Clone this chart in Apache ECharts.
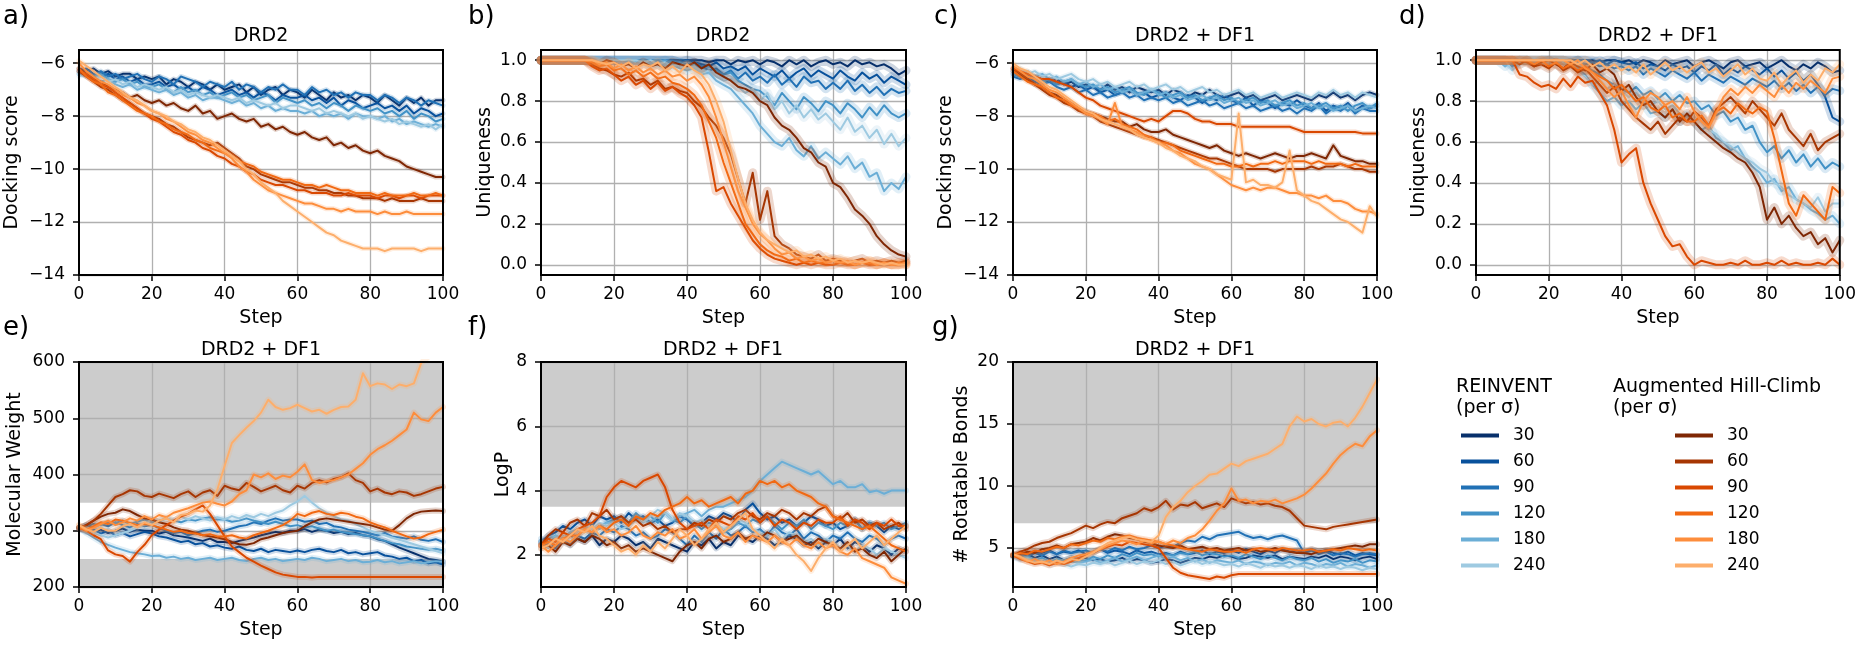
<!DOCTYPE html>
<html><head><meta charset="utf-8">
<script src="https://cdn.jsdelivr.net/npm/echarts@6/dist/echarts.min.js"></script>
<style>html,body{margin:0;padding:0;background:#fff}#c{width:1859px;height:646px}</style>
</head><body><div id="c"></div>
<script>
const steps=[0,2,4,6,8,10,12,14,16,18,20,22,24,26,28,30,32,34,36,38,40,42,44,46,48,50,52,54,56,58,60,62,64,66,68,70,72,74,76,78,80,82,84,86,88,90,92,94,96,98,100];
const sigmas=['30','60','90','120','180','240'];
const dockTicks=[-14,-12,-10,-8,-6];
const uniqTicks=[0,0.2,0.4,0.6,0.8,1.0];
const mwTicks=[200,300,400,500,600];
const logpTicks=[2,4,6,8];
const rotTicks=[5,10,15,20];
const xTicks=[20,40,60,80];

// a) Docking score, DRD2
const dockDRD2_REINVENT=[
[-6.2,-6.3,-6.2,-6.4,-6.3,-6.5,-6.4,-6.4,-6.6,-6.5,-6.6,-6.5,-6.8,-6.6,-6.7,-6.9,-6.7,-6.8,-7.0,-6.8,-7.0,-6.9,-6.8,-7.1,-6.9,-7.2,-7.0,-6.9,-7.2,-7.0,-7.1,-7.3,-7.0,-7.2,-7.4,-7.1,-7.3,-7.2,-7.4,-7.2,-7.3,-7.5,-7.2,-7.4,-7.6,-7.3,-7.5,-7.3,-7.6,-7.4,-7.4],
[-6.3,-6.2,-6.4,-6.5,-6.4,-6.6,-6.5,-6.7,-6.6,-6.8,-6.8,-6.7,-6.9,-6.8,-7.0,-6.9,-7.1,-6.9,-7.0,-7.2,-7.1,-7.0,-7.2,-7.1,-7.3,-7.1,-7.2,-7.4,-7.2,-7.3,-7.3,-7.2,-7.4,-7.3,-7.5,-7.3,-7.6,-7.4,-7.5,-7.7,-7.6,-7.5,-7.7,-7.6,-7.8,-7.6,-7.9,-7.7,-7.8,-8.0,-7.9],
[-6.4,-6.3,-6.5,-6.3,-6.5,-6.4,-6.6,-6.5,-6.4,-6.6,-6.7,-6.5,-6.6,-6.8,-6.5,-6.6,-6.7,-6.9,-6.7,-6.8,-6.9,-6.7,-7.0,-6.8,-6.9,-7.1,-6.9,-7.0,-6.8,-7.0,-7.0,-7.2,-6.9,-7.1,-7.0,-7.2,-7.1,-7.3,-7.1,-7.2,-7.2,-7.4,-7.2,-7.3,-7.5,-7.3,-7.4,-7.6,-7.4,-7.5,-7.6],
[-6.3,-6.4,-6.5,-6.4,-6.6,-6.7,-6.6,-6.8,-6.7,-6.9,-6.9,-6.8,-7.0,-7.1,-6.9,-7.1,-7.0,-7.2,-7.1,-7.3,-7.2,-7.1,-7.3,-7.2,-7.4,-7.3,-7.2,-7.5,-7.3,-7.4,-7.5,-7.4,-7.6,-7.5,-7.7,-7.5,-7.6,-7.8,-7.6,-7.7,-7.8,-7.7,-7.9,-7.8,-8.0,-7.8,-8.1,-7.9,-8.0,-8.2,-8.1],
[-6.4,-6.5,-6.6,-6.7,-6.6,-6.8,-6.9,-6.8,-7.0,-6.9,-7.0,-7.1,-7.0,-7.2,-7.1,-7.3,-7.2,-7.4,-7.3,-7.3,-7.4,-7.5,-7.4,-7.6,-7.5,-7.7,-7.6,-7.8,-7.7,-7.8,-7.8,-7.9,-7.8,-8.0,-7.9,-8.0,-7.9,-8.1,-7.9,-8.0,-8.0,-8.1,-8.0,-8.2,-8.1,-8.3,-8.2,-8.3,-8.4,-8.3,-8.4],
[-6.5,-6.4,-6.6,-6.5,-6.7,-6.6,-6.8,-6.7,-6.9,-6.8,-6.9,-7.0,-6.9,-7.1,-7.0,-7.2,-7.1,-7.2,-7.3,-7.2,-7.3,-7.4,-7.3,-7.5,-7.4,-7.5,-7.6,-7.5,-7.7,-7.6,-7.6,-7.7,-7.8,-7.7,-7.9,-7.8,-7.9,-8.0,-7.9,-8.1,-8.0,-8.1,-8.2,-8.1,-8.3,-8.2,-8.3,-8.4,-8.3,-8.5,-8.3]
];
const dockDRD2_AHC=[
[-6.2,-6.4,-6.6,-6.7,-6.9,-7.0,-7.1,-7.3,-7.2,-7.4,-7.5,-7.4,-7.6,-7.5,-7.7,-7.8,-7.6,-7.9,-7.8,-8.1,-8.0,-7.9,-8.1,-8.2,-8.1,-8.4,-8.3,-8.5,-8.4,-8.6,-8.7,-8.6,-8.8,-8.9,-8.8,-9.1,-9.0,-9.2,-9.1,-9.3,-9.4,-9.3,-9.5,-9.6,-9.7,-9.9,-10.0,-10.1,-10.2,-10.3,-10.3],
[-6.3,-6.5,-6.7,-6.9,-7.0,-7.2,-7.4,-7.5,-7.7,-7.9,-8.0,-8.1,-8.3,-8.4,-8.6,-8.8,-8.9,-9.0,-9.1,-9.0,-9.2,-9.4,-9.6,-9.9,-10.0,-10.2,-10.3,-10.4,-10.5,-10.5,-10.6,-10.7,-10.7,-10.8,-10.8,-10.9,-10.9,-11.0,-11.0,-11.1,-11.1,-11.1,-11.2,-11.1,-11.2,-11.2,-11.2,-11.1,-11.2,-11.2,-11.2],
[-6.3,-6.4,-6.6,-6.8,-6.9,-7.1,-7.3,-7.5,-7.7,-7.9,-8.1,-8.2,-8.4,-8.6,-8.7,-8.9,-9.0,-9.2,-9.3,-9.5,-9.6,-9.8,-9.9,-10.1,-10.2,-10.4,-10.5,-10.6,-10.6,-10.7,-10.8,-10.8,-10.9,-10.9,-10.9,-11.0,-11.0,-10.9,-11.0,-11.0,-11.0,-11.1,-11.0,-11.0,-11.1,-11.0,-11.0,-11.1,-11.0,-11.0,-11.0],
[-6.2,-6.5,-6.7,-6.8,-7.1,-7.2,-7.4,-7.6,-7.8,-7.9,-8.0,-8.2,-8.3,-8.5,-8.6,-8.7,-8.9,-9.0,-9.2,-9.3,-9.4,-9.5,-9.7,-9.8,-9.9,-10.1,-10.2,-10.3,-10.4,-10.4,-10.5,-10.6,-10.6,-10.7,-10.6,-10.7,-10.8,-10.8,-10.9,-10.9,-10.9,-11.0,-10.9,-11.0,-11.0,-11.0,-10.9,-11.0,-11.0,-10.9,-11.0],
[-6.0,-6.3,-6.5,-6.7,-6.8,-7.0,-7.2,-7.3,-7.5,-7.6,-7.8,-7.9,-8.1,-8.2,-8.4,-8.6,-8.7,-8.9,-9.0,-9.2,-9.4,-9.6,-9.9,-10.1,-10.4,-10.6,-10.8,-10.9,-11.0,-11.1,-11.2,-11.3,-11.3,-11.4,-11.5,-11.5,-11.6,-11.5,-11.6,-11.6,-11.6,-11.7,-11.6,-11.7,-11.7,-11.6,-11.7,-11.7,-11.7,-11.7,-11.7],
[-5.9,-6.1,-6.3,-6.5,-6.7,-6.9,-7.1,-7.3,-7.4,-7.6,-7.8,-7.9,-8.0,-8.2,-8.3,-8.5,-8.6,-8.8,-8.9,-9.1,-9.3,-9.5,-9.7,-10.0,-10.2,-10.5,-10.7,-10.9,-11.2,-11.4,-11.6,-11.8,-12.0,-12.2,-12.4,-12.5,-12.7,-12.8,-12.9,-13.0,-13.0,-13.0,-13.1,-13.0,-13.0,-13.0,-13.0,-13.1,-13.0,-13.0,-13.0]
];

// b) Uniqueness, DRD2
const uniqDRD2_REINVENT=[
[1,1,1,1,1,1,1,1,1,1,1,1,1,1,1,1,1,1,1,1,1,1,1,0.99,1,1,0.98,1,0.99,1,0.98,1,0.99,0.97,1,0.98,1,0.97,0.99,1,0.98,0.99,0.97,1,0.98,0.99,0.97,0.98,0.96,0.93,0.95],
[1,1,1,1,1,1,1,1,1,1,1,1,1,1,1,1,1,1,1,0.99,1,0.99,0.98,0.97,0.99,0.96,0.97,0.95,0.97,0.93,0.96,0.94,0.92,0.95,0.91,0.94,0.96,0.92,0.95,0.93,0.91,0.95,0.92,0.90,0.94,0.91,0.93,0.89,0.92,0.90,0.88],
[1,1,1,1,1,1,1,1,1,1,1,1,1,1,1,1,1,1,1,0.99,0.98,0.99,0.97,0.95,0.96,0.93,0.95,0.91,0.94,0.90,0.92,0.89,0.93,0.88,0.91,0.87,0.92,0.89,0.90,0.86,0.89,0.86,0.90,0.85,0.88,0.84,0.87,0.83,0.86,0.84,0.85],
[1,1,1,1,1,1,1,1,1,1,1,1,1,1,1,1,0.99,1,0.98,0.99,0.97,0.98,0.96,0.97,0.95,0.93,0.94,0.90,0.88,0.86,0.85,0.82,0.78,0.84,0.80,0.76,0.82,0.79,0.75,0.80,0.78,0.74,0.79,0.76,0.72,0.77,0.73,0.78,0.74,0.72,0.74],
[1,1,1,1,1,1,1,1,1,1,1,1,1,0.99,1,0.98,0.99,0.97,0.98,0.96,0.95,0.96,0.93,0.94,0.90,0.88,0.86,0.82,0.78,0.74,0.68,0.64,0.60,0.58,0.62,0.56,0.53,0.58,0.52,0.55,0.52,0.49,0.53,0.47,0.50,0.43,0.45,0.36,0.40,0.37,0.43],
[1,1,1,1,1,1,1,1,1,1,1,1,1,1,0.99,1,0.98,0.99,0.97,0.98,0.96,0.97,0.94,0.95,0.92,0.90,0.91,0.87,0.84,0.86,0.80,0.84,0.76,0.80,0.74,0.78,0.72,0.76,0.71,0.74,0.70,0.66,0.72,0.65,0.68,0.62,0.66,0.59,0.64,0.58,0.62]
];
const uniqDRD2_AHC=[
[1,1,1,1,1,1,1,0.99,0.98,1,0.99,0.97,0.98,0.96,0.99,0.97,0.98,0.96,0.99,0.98,0.97,0.99,0.96,0.98,0.94,0.92,0.90,0.87,0.86,0.84,0.80,0.78,0.72,0.68,0.66,0.62,0.57,0.55,0.50,0.48,0.40,0.38,0.33,0.27,0.24,0.20,0.14,0.10,0.07,0.05,0.04],
[1,1,1,1,1,1,1,0.98,0.96,0.95,0.93,0.92,0.94,0.90,0.91,0.88,0.90,0.86,0.87,0.85,0.84,0.80,0.77,0.72,0.68,0.62,0.54,0.42,0.30,0.45,0.22,0.36,0.14,0.10,0.08,0.05,0.04,0.03,0.05,0.02,0.03,0.02,0.01,0.02,0.03,0.01,0.02,0.01,0.02,0.01,0.02],
[1,1,1,1,1,1,1,0.97,0.95,0.96,0.93,0.90,0.92,0.88,0.90,0.86,0.89,0.85,0.87,0.84,0.82,0.78,0.72,0.55,0.36,0.38,0.30,0.24,0.18,0.12,0.08,0.05,0.03,0.02,0.01,0,0.01,0,0.01,0,0,0.01,0,0,0.01,0,0,0.01,0,0,0.01],
[1,1,1,1,1,1,1,0.99,0.97,0.98,0.95,0.96,0.93,0.95,0.92,0.94,0.91,0.92,0.89,0.88,0.86,0.83,0.78,0.70,0.62,0.50,0.40,0.30,0.20,0.15,0.10,0.07,0.05,0.04,0.02,0.03,0.01,0.02,0.01,0.01,0.02,0.01,0.01,0,0.01,0.01,0,0.01,0,0.01,0],
[1,1,1,1,1,1,1,1,0.98,0.99,0.96,0.98,0.95,0.97,0.94,0.96,0.93,0.95,0.92,0.93,0.90,0.92,0.88,0.82,0.72,0.60,0.48,0.36,0.28,0.20,0.15,0.12,0.08,0.05,0.06,0.03,0.04,0.02,0.03,0.01,0.02,0.01,0.02,0,0.01,0.02,0,0.01,0,0,0.01],
[1,1,1,1,1,1,1,1,0.99,0.98,0.99,0.97,0.99,0.96,0.98,0.97,0.99,0.95,0.97,0.94,0.98,0.95,0.93,0.88,0.80,0.70,0.56,0.42,0.30,0.22,0.16,0.12,0.10,0.08,0.06,0.07,0.04,0.05,0.03,0.04,0.02,0.03,0.01,0.02,0.01,0.02,0.01,0,0.01,0,0]
];

// c) Docking score, DRD2 + DF1
const dockDF1_REINVENT=[
[-6.3,-6.4,-6.5,-6.5,-6.6,-6.7,-6.6,-6.8,-6.7,-6.9,-6.8,-6.9,-7.0,-6.8,-7.0,-6.9,-7.1,-6.9,-7.0,-7.1,-7.0,-7.2,-7.0,-7.1,-7.3,-7.1,-7.2,-7.0,-7.2,-7.3,-7.2,-7.1,-7.3,-7.2,-7.4,-7.3,-7.2,-7.4,-7.3,-7.2,-7.3,-7.4,-7.2,-7.3,-7.1,-7.3,-7.2,-7.4,-7.2,-7.1,-7.2],
[-6.4,-6.5,-6.4,-6.6,-6.7,-6.6,-6.8,-6.7,-6.9,-6.8,-7.0,-6.9,-7.1,-7.0,-7.2,-7.1,-7.0,-7.2,-7.1,-7.3,-7.2,-7.1,-7.3,-7.4,-7.2,-7.3,-7.5,-7.3,-7.4,-7.2,-7.4,-7.5,-7.3,-7.6,-7.4,-7.5,-7.7,-7.5,-7.6,-7.4,-7.6,-7.7,-7.5,-7.8,-7.6,-7.7,-7.5,-7.8,-7.6,-7.7,-7.6],
[-6.5,-6.6,-6.5,-6.7,-6.8,-6.7,-6.9,-7.0,-6.9,-7.1,-7.0,-7.2,-7.1,-7.3,-7.2,-7.1,-7.3,-7.2,-7.4,-7.3,-7.4,-7.3,-7.5,-7.4,-7.6,-7.5,-7.4,-7.6,-7.5,-7.7,-7.6,-7.5,-7.7,-7.6,-7.8,-7.7,-7.6,-7.8,-7.7,-7.9,-7.7,-7.8,-7.6,-7.9,-7.7,-7.8,-7.6,-7.9,-7.7,-7.8,-7.8],
[-6.4,-6.5,-6.6,-6.5,-6.7,-6.6,-6.8,-6.7,-6.6,-6.8,-6.9,-6.8,-7.0,-6.9,-7.1,-7.0,-6.9,-7.1,-7.2,-7.0,-7.1,-7.3,-7.2,-7.1,-7.3,-7.2,-7.4,-7.3,-7.2,-7.4,-7.3,-7.5,-7.4,-7.3,-7.5,-7.4,-7.6,-7.5,-7.4,-7.6,-7.5,-7.7,-7.6,-7.5,-7.7,-7.6,-7.8,-7.6,-7.5,-7.7,-7.5],
[-6.3,-6.4,-6.3,-6.5,-6.4,-6.6,-6.5,-6.7,-6.6,-6.8,-6.7,-6.9,-6.8,-7.0,-6.9,-7.1,-7.0,-7.2,-7.1,-7.0,-7.2,-7.1,-7.3,-7.2,-7.4,-7.3,-7.2,-7.4,-7.3,-7.5,-7.4,-7.3,-7.5,-7.4,-7.6,-7.5,-7.4,-7.6,-7.5,-7.7,-7.6,-7.5,-7.7,-7.6,-7.8,-7.7,-7.6,-7.8,-7.7,-7.6,-7.7],
[-6.3,-6.2,-6.4,-6.3,-6.5,-6.4,-6.6,-6.5,-6.4,-6.6,-6.7,-6.6,-6.8,-6.7,-6.9,-6.8,-6.7,-6.9,-6.8,-7.0,-6.9,-6.8,-7.0,-6.9,-7.1,-7.0,-6.9,-7.1,-7.0,-7.2,-7.1,-7.0,-7.2,-7.1,-7.3,-7.2,-7.1,-7.3,-7.2,-7.1,-7.2,-7.3,-7.1,-7.2,-7.0,-7.2,-7.1,-7.3,-7.1,-7.2,-7.3]
];
const dockDF1_AHC=[
[-6.2,-6.4,-6.6,-6.8,-6.9,-7.1,-7.2,-7.4,-7.5,-7.7,-7.8,-7.9,-8.0,-8.1,-8.2,-8.2,-8.4,-8.3,-8.5,-8.6,-8.6,-8.5,-8.7,-8.8,-8.9,-9.0,-9.1,-9.2,-9.1,-9.3,-9.4,-9.5,-9.4,-9.5,-9.6,-9.5,-9.4,-9.5,-9.6,-9.5,-9.5,-9.4,-9.5,-9.6,-9.1,-9.5,-9.6,-9.7,-9.7,-9.8,-9.8],
[-6.2,-6.4,-6.6,-6.8,-7.0,-7.2,-7.3,-7.5,-7.6,-7.8,-7.9,-8.0,-8.2,-8.3,-8.4,-8.5,-8.6,-8.7,-8.8,-8.8,-8.9,-9.0,-9.1,-9.2,-9.3,-9.4,-9.5,-9.6,-9.6,-9.7,-9.8,-9.9,-10.0,-10.0,-10.0,-10.0,-10.1,-10.0,-10.0,-10.0,-10.0,-9.9,-10.0,-9.9,-9.9,-9.8,-9.9,-10.0,-10.0,-10.1,-10.1],
[-6.2,-6.3,-6.4,-6.5,-6.6,-6.6,-6.7,-6.8,-6.9,-7.1,-7.3,-7.4,-7.6,-7.7,-7.8,-7.9,-8.0,-8.1,-8.2,-8.1,-8.2,-8.0,-7.8,-7.8,-7.9,-8.1,-8.2,-8.2,-8.3,-8.3,-8.3,-8.4,-8.4,-8.4,-8.4,-8.4,-8.4,-8.4,-8.4,-8.5,-8.6,-8.6,-8.6,-8.6,-8.6,-8.6,-8.6,-8.6,-8.65,-8.65,-8.65],
[-6.3,-6.5,-6.7,-6.8,-6.9,-7.1,-7.3,-7.4,-7.6,-7.7,-7.9,-7.9,-8.0,-8.2,-8.1,-8.3,-8.4,-8.5,-8.7,-8.8,-9.0,-9.0,-9.1,-9.3,-9.4,-9.5,-9.6,-9.7,-9.8,-9.8,-9.9,-9.9,-9.8,-9.9,-9.8,-9.8,-9.7,-9.8,-9.7,-9.7,-9.7,-9.8,-9.7,-9.8,-9.8,-9.8,-9.9,-9.8,-9.9,-9.9,-9.9],
[-6.1,-6.3,-6.5,-6.6,-6.8,-7.0,-7.1,-7.3,-7.5,-7.7,-7.9,-8.0,-8.1,-8.3,-7.5,-8.4,-8.5,-8.6,-8.8,-8.9,-9.0,-9.1,-9.3,-9.4,-9.6,-9.8,-9.9,-10.0,-10.2,-10.4,-10.6,-10.7,-10.8,-10.7,-10.8,-10.7,-10.7,-10.8,-10.9,-10.9,-11.0,-11.0,-11.1,-11.0,-11.2,-11.2,-11.3,-11.5,-11.6,-11.6,-11.7],
[-6.0,-6.2,-6.3,-6.5,-6.7,-6.9,-7.0,-7.2,-7.4,-7.6,-7.8,-7.9,-8.1,-8.2,-8.3,-8.4,-8.5,-8.7,-8.8,-8.9,-9.0,-9.2,-9.3,-9.5,-9.6,-9.7,-9.9,-10.0,-10.2,-10.3,-10.4,-7.9,-10.5,-10.4,-10.6,-10.6,-10.7,-10.5,-9.3,-10.8,-11.0,-11.2,-11.3,-11.5,-11.7,-11.9,-12.0,-12.2,-12.4,-11.4,-11.8]
];

// d) Uniqueness, DRD2 + DF1
const uniqDF1_REINVENT=[
[1,1,1,1,1,1,1,1,1,1,1,1,1,1,1,1,1,0.99,1,1,0.99,1,0.98,1,0.99,0.97,1,0.98,0.99,1,0.97,0.99,1,0.98,0.96,0.99,1,0.97,0.98,0.99,0.96,0.98,1,0.97,0.95,0.98,0.96,0.99,0.97,0.94,0.95],
[1,1,1,1,1,1,1,1,1,1,1,1,1,1,1,1,0.99,1,0.98,1,0.99,0.98,0.99,0.96,0.98,0.97,0.95,0.98,0.96,0.97,0.94,0.97,0.95,0.98,0.93,0.96,0.94,0.97,0.95,0.93,0.96,0.92,0.95,0.91,0.94,0.90,0.93,0.88,0.82,0.72,0.70],
[1,1,1,1,1,0.98,1,1,0.99,1,1,1,1,0.99,1,0.98,0.99,0.97,0.98,0.96,0.97,0.95,0.97,0.93,0.96,0.94,0.92,0.95,0.93,0.91,0.94,0.90,0.93,0.91,0.89,0.92,0.90,0.88,0.91,0.89,0.87,0.90,0.86,0.89,0.85,0.88,0.84,0.87,0.83,0.86,0.85],
[1,1,1,1,1,0.97,1,1,1,1,1,1,1,0.98,1,0.97,0.95,0.93,0.90,0.88,0.86,0.84,0.87,0.83,0.85,0.81,0.84,0.80,0.83,0.79,0.80,0.76,0.78,0.73,0.75,0.70,0.72,0.66,0.68,0.60,0.55,0.58,0.52,0.56,0.50,0.54,0.48,0.52,0.47,0.50,0.48],
[1,1,1,1,0.97,1,1,1,0.99,1,1,1,0.98,0.99,0.96,0.93,0.88,0.84,0.80,0.82,0.78,0.80,0.76,0.79,0.74,0.75,0.72,0.76,0.70,0.73,0.70,0.66,0.68,0.62,0.60,0.56,0.58,0.52,0.48,0.45,0.40,0.42,0.36,0.38,0.32,0.30,0.27,0.25,0.22,0.24,0.20],
[1,1,1,1,1,0.95,1,1,1,1,1,1,1,0.98,0.95,0.92,0.88,0.90,0.86,0.88,0.85,0.82,0.84,0.80,0.78,0.80,0.76,0.78,0.74,0.72,0.70,0.72,0.66,0.64,0.60,0.58,0.55,0.52,0.50,0.47,0.45,0.40,0.38,0.34,0.32,0.30,0.28,0.33,0.26,0.30,0.30]
];
const uniqDF1_AHC=[
[1,1,1,1,1,1,0.98,1,0.97,0.99,1,0.98,0.96,0.99,0.97,0.95,0.98,0.94,0.96,0.93,0.85,0.88,0.82,0.78,0.80,0.75,0.72,0.76,0.70,0.74,0.70,0.66,0.63,0.60,0.57,0.55,0.52,0.50,0.45,0.38,0.22,0.28,0.20,0.24,0.18,0.14,0.16,0.10,0.13,0.06,0.12],
[1,1,1,1,1,1,1,0.99,0.97,0.98,0.96,0.99,0.95,0.97,0.94,0.96,0.92,0.88,0.84,0.87,0.80,0.76,0.72,0.69,0.66,0.70,0.64,0.68,0.72,0.70,0.75,0.72,0.68,0.76,0.79,0.82,0.78,0.74,0.80,0.76,0.72,0.68,0.74,0.66,0.62,0.58,0.64,0.56,0.60,0.62,0.64],
[1,1,1,1,1,1,0.93,0.92,0.89,0.87,0.88,0.86,0.91,0.87,0.92,0.89,0.90,0.84,0.78,0.66,0.50,0.54,0.57,0.40,0.30,0.22,0.14,0.09,0.10,0.04,0,0.02,0.01,0,0,0.01,0,0.02,0,0,0.01,0,0.02,0,0.01,0,0,0.01,0,0.03,0],
[1,1,1,1,1,1,1,1,0.98,1,0.97,0.99,0.96,0.98,0.95,0.97,0.94,0.92,0.90,0.86,0.88,0.84,0.80,0.82,0.77,0.75,0.78,0.72,0.74,0.70,0.70,0.73,0.68,0.75,0.77,0.74,0.79,0.76,0.74,0.77,0.75,0.62,0.46,0.30,0.24,0.34,0.30,0.26,0.22,0.38,0.35],
[1,1,1,1,1,1,1,1,1,1,1,1,1,0.98,1,0.96,0.94,0.90,0.86,0.82,0.85,0.78,0.72,0.80,0.84,0.82,0.78,0.80,0.76,0.82,0.75,0.70,0.67,0.74,0.82,0.86,0.83,0.87,0.84,0.88,0.85,0.82,0.88,0.84,0.89,0.86,0.90,0.87,0.84,0.91,0.92],
[1,1,1,1,1,1,1,1,1,1,1,1,1,1,0.98,1,0.97,0.99,0.96,0.98,0.95,0.97,0.94,0.98,0.93,0.96,0.99,0.95,0.97,0.94,0.97,0.99,0.94,0.96,0.92,0.95,0.98,0.93,0.96,0.91,0.90,0.94,0.88,0.92,0.95,0.89,0.93,0.90,0.96,0.94,0.98]
];

// e) Molecular Weight, DRD2 + DF1
const mwDF1_REINVENT=[
[305,300,298,302,296,300,304,298,302,300,300,295,298,292,290,288,285,282,286,280,280,278,282,285,288,292,295,298,296,300,300,303,298,302,300,296,298,294,296,292,290,285,282,276,270,265,260,255,250,248,245],
[305,298,302,295,300,292,296,290,294,298,295,290,288,284,280,282,276,278,272,274,270,268,272,266,264,268,262,266,264,262,265,262,266,268,264,262,266,260,262,258,260,262,256,254,250,252,246,248,242,244,240],
[305,310,306,312,308,315,310,306,312,308,310,305,300,296,298,292,296,300,302,298,300,304,308,310,315,312,318,322,318,320,320,316,318,312,314,308,306,302,300,298,295,292,296,290,288,286,290,284,282,285,280],
[305,308,312,310,316,314,318,312,316,320,315,318,322,318,315,320,318,322,324,320,320,316,318,322,318,315,312,316,312,308,310,306,308,304,300,302,298,296,294,292,290,286,282,278,276,272,270,268,266,268,265],
[305,296,288,280,275,270,266,262,260,258,255,256,252,254,250,252,248,250,252,248,250,252,248,246,250,252,248,250,246,248,250,248,252,250,246,248,250,246,248,244,245,248,244,246,242,244,246,242,244,246,245],
[305,300,296,292,288,292,296,300,306,312,320,316,322,318,325,320,326,322,318,324,320,326,322,328,324,330,326,332,336,345,352,362,350,340,332,326,320,318,312,306,300,296,292,288,284,280,276,272,268,264,260]
];
const mwDF1_AHC=[
[305,310,318,325,330,332,338,335,328,322,320,315,312,306,302,300,296,292,290,288,285,280,276,275,278,285,288,292,296,298,300,308,315,320,322,320,318,316,314,312,310,306,302,300,310,322,330,334,335,336,335],
[305,310,318,330,345,360,365,372,370,362,360,366,362,358,365,370,360,368,372,362,380,375,372,385,378,370,375,380,372,368,380,375,385,390,386,392,395,402,390,385,370,375,368,365,370,368,362,365,370,375,378],
[305,300,292,285,265,258,255,245,262,275,292,302,310,318,325,330,338,345,330,310,290,272,262,252,245,238,232,226,222,220,218,218,217,218,218,218,218,218,218,218,218,218,218,218,218,218,218,218,218,218,218],
[305,302,308,315,312,320,318,314,310,312,310,306,302,298,300,296,295,292,294,290,290,292,288,286,292,296,300,305,310,318,330,326,332,335,330,328,332,330,325,322,315,310,306,300,295,290,286,288,294,298,302],
[310,300,305,312,318,310,315,322,318,326,320,328,324,332,336,340,345,350,352,348,345,352,365,372,400,395,402,392,398,395,405,418,390,385,388,390,395,400,410,420,435,445,452,460,470,480,510,498,495,510,520],
[310,303,298,305,300,300,308,312,306,315,310,318,322,315,328,330,336,334,345,373,415,456,470,483,495,510,533,520,515,518,524,518,512,515,508,515,520,521,533,580,557,562,560,552,560,557,562,598,610,625,640]
];

// f) LogP, DRD2 + DF1
const logpDF1_REINVENT=[
[2.4,2.3,2.5,2.4,2.6,2.5,2.4,2.6,2.3,2.5,2.4,2.6,2.5,2.3,2.4,2.2,2.5,2.4,2.3,2.2,2.1,2.4,2.3,2.5,2.2,2.4,2.3,2.6,2.5,2.4,2.6,2.5,2.3,2.4,2.6,2.5,2.3,2.4,2.2,2.4,2.3,2.5,2.2,2.4,2.3,2.1,2.3,2.2,2.0,2.2,2.1],
[2.4,2.6,2.7,2.9,2.8,3.0,3.1,2.9,3.2,3.1,3.2,3.0,3.3,3.1,3.2,3.0,3.1,2.9,3.0,3.2,3.1,2.9,3.0,3.2,3.1,3.3,3.2,3.0,3.4,3.6,3.3,3.1,3.2,3.0,3.1,2.9,3.0,3.2,3.1,2.9,3.0,2.8,2.9,3.1,2.8,3.0,2.9,2.7,2.9,2.8,2.9],
[2.3,2.4,2.2,2.5,2.3,2.6,2.5,2.7,2.6,2.8,2.7,2.9,2.8,2.6,2.7,2.5,2.6,2.8,2.7,2.5,2.3,2.6,2.4,2.7,2.5,2.8,2.6,2.7,2.9,2.7,2.8,2.6,2.9,2.7,2.6,2.8,2.5,2.7,2.6,2.4,2.6,2.5,2.7,2.5,2.4,2.6,2.5,2.3,2.5,2.6,2.5],
[2.5,2.3,2.6,2.4,2.7,2.6,2.8,2.7,2.9,3.0,3.1,3.2,3.0,3.3,3.1,3.2,3.0,3.3,3.1,3.0,3.2,3.0,2.8,3.0,2.9,2.7,2.8,3.0,2.9,3.1,3.0,3.2,3.0,2.8,3.0,2.9,3.1,2.8,3.0,2.9,2.8,3.0,2.9,3.1,2.8,3.0,2.9,3.0,2.8,2.9,3.0],
[2.4,2.5,2.6,2.5,2.7,2.8,2.7,2.9,2.8,3.0,3.0,3.1,2.9,3.2,3.1,3.0,3.2,3.3,3.1,3.2,3.3,3.4,3.2,3.4,3.5,3.5,3.6,3.7,3.8,4.0,4.3,4.5,4.7,4.9,4.8,4.7,4.6,4.5,4.6,4.4,4.2,4.3,4.1,4.1,4.2,3.95,4.0,3.9,4.0,4.0,4.0],
[2.4,2.2,2.5,2.6,2.4,2.7,2.9,2.8,3.0,2.9,3.0,2.8,2.9,3.1,3.0,3.2,3.4,3.3,3.1,3.3,3.2,3.0,3.1,2.9,3.0,2.8,2.9,3.1,3.0,2.8,2.7,2.6,2.8,2.5,2.7,2.6,2.4,2.5,2.3,2.5,2.4,2.2,2.3,2.1,2.3,2.2,2.0,2.2,2.1,2.0,1.9]
];
const logpDF1_AHC=[
[2.2,2.3,2.1,2.4,2.3,2.5,2.4,2.6,2.5,2.3,2.4,2.2,2.3,2.1,2.2,2.1,2.0,1.9,1.8,2.1,2.3,2.4,2.2,2.5,2.6,2.4,2.5,2.7,2.5,2.6,2.5,2.7,2.6,2.4,2.5,2.6,2.4,2.3,2.5,2.4,2.3,2.2,2.4,2.1,2.2,2.0,1.9,2.1,1.8,2.0,2.2],
[2.3,2.6,2.8,2.7,3.0,3.1,2.9,3.3,3.2,3.4,3.1,3.2,3.0,3.1,2.9,3.0,2.8,2.9,2.7,2.8,2.8,3.0,2.9,3.1,3.0,3.2,3.1,3.3,3.4,3.2,3.1,3.3,3.2,3.4,3.3,3.1,3.3,3.2,3.4,3.5,3.2,3.1,3.3,3.0,3.1,2.9,3.0,2.8,2.9,3.0,2.8],
[2.3,2.5,2.4,2.7,2.6,2.8,2.9,3.0,3.2,3.8,4.1,4.3,4.2,4.1,4.3,4.4,4.5,4.1,3.4,3.0,2.8,2.9,3.0,2.8,3.1,3.0,2.9,3.2,3.1,3.3,3.0,3.2,2.9,3.1,3.0,2.8,3.0,2.9,3.1,3.0,3.0,3.2,2.9,3.1,3.0,2.8,3.0,2.9,3.1,2.9,2.9],
[2.3,2.4,2.3,2.5,2.6,2.6,2.8,2.7,2.9,2.8,3.0,3.1,2.9,3.2,3.1,3.3,3.2,3.4,3.5,3.6,3.8,3.6,3.7,3.5,3.6,3.7,3.8,3.6,3.9,4.0,4.3,4.2,4.3,4.1,4.2,4.0,3.9,3.8,3.6,3.5,3.2,3.1,3.0,2.9,2.8,2.9,2.7,2.5,2.3,2.2,2.1],
[2.3,2.1,2.3,2.5,2.4,2.6,2.8,2.7,2.9,2.7,2.8,2.6,2.7,2.9,2.6,2.5,2.7,2.6,2.8,2.5,2.6,2.8,2.5,2.7,2.9,2.6,2.5,2.7,2.4,2.6,2.5,2.4,2.6,2.4,2.3,2.5,2.3,2.2,2.4,2.2,2.3,2.1,2.0,2.2,1.9,1.8,1.7,1.6,1.3,1.2,1.1],
[2.2,2.3,2.5,2.4,2.6,2.8,2.7,2.9,2.6,2.5,2.3,2.1,2.2,2.0,2.3,2.1,2.4,2.2,2.5,2.8,2.6,2.3,2.5,2.8,3.0,2.7,2.9,3.1,3.3,2.8,2.6,2.4,2.2,2.5,2.3,2.0,1.8,1.5,1.9,2.2,2.4,2.1,2.3,2.5,2.2,2.4,2.6,2.3,2.5,2.7,2.9]
];

// g) # Rotatable Bonds, DRD2 + DF1
const rotDF1_REINVENT=[
[4.4,4.3,4.5,4.2,4.4,4.1,4.3,4.0,4.2,4.1,4.2,4.0,4.1,3.9,4.0,4.2,3.9,4.1,4.0,3.8,3.9,4.1,4.0,3.8,4.0,4.2,4.1,4.3,4.2,4.4,4.3,4.1,4.2,4.4,4.3,4.2,4.4,4.1,4.3,4.2,4.1,4.3,4.2,4.4,4.1,4.3,4.2,4.0,4.2,4.3,4.1],
[4.4,4.6,4.5,4.7,4.6,4.8,4.5,4.7,4.6,4.8,4.5,4.7,4.9,4.6,4.8,4.7,4.5,4.8,4.6,4.7,4.5,4.6,4.4,4.7,4.5,4.6,4.8,4.5,4.7,4.6,4.8,4.6,4.9,4.7,4.5,4.8,4.6,4.9,4.7,4.8,4.6,4.9,4.7,4.8,4.6,4.5,4.7,4.4,4.6,4.5,4.4],
[4.4,4.5,4.3,4.6,4.4,4.7,4.5,4.8,4.6,4.7,4.8,4.6,4.9,4.7,5.0,4.8,5.1,4.9,5.0,5.2,5.0,5.2,5.1,5.4,5.6,5.5,5.9,5.7,6.0,6.1,6.2,6.3,6.0,5.8,5.9,5.7,5.9,6.0,5.8,5.6,4.6,4.8,4.5,4.7,4.4,4.6,4.5,4.3,4.5,4.6,4.5],
[4.4,4.2,4.3,4.0,4.2,3.9,4.1,4.0,4.2,3.9,4.0,4.3,4.1,4.4,4.2,4.5,4.3,4.6,4.4,4.5,4.3,4.5,4.4,4.6,4.5,4.7,4.4,4.6,4.5,4.3,4.4,4.2,4.5,4.3,4.1,4.4,4.2,4.0,4.3,4.1,4.0,4.2,3.9,4.1,3.8,4.0,3.9,4.1,3.8,4.0,3.9],
[4.3,4.1,4.2,3.9,4.0,3.8,3.9,3.7,3.9,3.8,3.9,4.1,3.8,4.0,4.2,3.9,4.1,4.3,4.0,4.2,4.4,4.1,4.3,4.0,4.2,3.9,4.1,3.8,4.0,3.9,3.8,4.0,3.7,3.9,3.8,3.6,3.8,3.7,3.9,3.6,3.8,3.7,3.5,3.7,3.6,3.8,3.5,3.7,3.6,3.4,3.6],
[4.3,4.0,4.1,3.8,3.9,3.6,3.8,3.7,3.5,3.7,3.6,3.8,3.7,3.9,3.6,3.8,4.0,3.7,3.9,3.8,4.0,3.7,3.9,3.6,3.8,4.0,3.7,3.9,3.8,3.6,3.7,3.5,3.8,3.6,3.4,3.7,3.5,3.6,3.4,3.6,3.5,3.3,3.6,3.4,3.5,3.3,3.5,3.4,3.2,3.4,3.3]
];
const rotDF1_AHC=[
[4.4,4.5,4.7,4.6,4.9,5.0,5.2,5.0,5.3,5.4,5.5,5.8,5.6,5.9,6.1,6.0,5.8,5.7,5.5,5.4,5.2,5.1,5.0,5.2,4.9,5.0,5.1,4.9,5.0,4.8,4.9,5.0,4.8,4.9,4.7,4.8,5.0,4.8,4.7,4.6,4.6,4.5,4.7,4.8,4.9,5.0,5.1,5.2,5.1,5.3,5.3],
[4.4,4.7,4.9,5.2,5.4,5.5,5.8,6.0,6.2,6.5,6.8,6.6,6.9,7.1,7.0,7.4,7.6,7.8,8.2,8.0,8.3,8.8,8.1,8.5,8.4,8.7,8.2,8.4,8.6,8.3,9.0,8.8,8.6,8.7,8.5,8.6,8.4,8.3,8.0,7.4,6.8,6.7,6.6,6.5,6.7,6.8,6.9,7.0,7.1,7.2,7.3],
[4.4,4.1,3.9,3.7,3.8,3.6,3.8,3.7,3.9,4.2,4.4,4.6,4.9,5.1,5.3,5.2,5.5,5.4,5.3,5.2,5.0,4.2,3.4,3.0,2.8,2.7,2.6,2.5,2.7,2.6,2.8,2.9,2.9,2.9,2.9,2.9,2.9,2.9,2.9,2.9,2.9,2.9,2.9,2.9,2.9,2.9,2.9,2.9,2.9,2.9,2.9],
[4.4,4.6,4.5,4.8,4.7,4.9,5.1,5.0,5.3,5.2,5.4,5.6,5.5,5.8,5.7,5.9,6.0,5.8,5.7,5.6,5.5,5.3,5.2,5.0,4.9,4.8,4.7,4.9,4.8,4.7,4.7,4.8,4.6,4.9,5.0,4.9,4.8,5.0,4.9,4.8,4.8,4.9,4.7,4.8,4.9,4.8,5.0,4.9,4.8,4.9,4.8],
[4.5,4.2,3.9,4.1,3.8,4.0,3.7,3.9,4.2,4.4,4.5,4.7,4.9,5.2,5.4,5.6,5.5,5.3,5.6,5.4,5.5,5.3,5.6,5.4,5.8,6.0,6.5,7.2,8.0,8.6,9.8,8.8,8.9,8.6,8.8,8.7,8.9,8.6,8.8,9.0,9.3,9.8,10.4,11.0,11.8,12.5,13.0,13.4,13.2,14.0,14.5],
[4.5,4.3,4.0,3.8,3.9,3.7,4.0,3.8,4.1,4.0,4.3,4.6,5.0,5.4,5.6,5.8,5.9,5.7,5.6,5.5,6.0,7.5,8.3,8.8,9.5,10.0,10.4,10.9,11.0,11.4,11.8,11.6,12.0,12.2,12.4,12.6,13.0,13.4,14.8,15.6,15.2,15.4,15.0,14.8,15.1,15.2,14.8,15.5,16.4,17.5,18.6]
];

const FONT='DejaVu Sans';
const blues=['#08306b','#08519c','#2171b5','#4292c6','#6baed6','#9ecae1'];
const oranges=['#7f2704','#a63603','#d94801','#f16913','#fd8d3c','#fdae6b'];
const minusFmt=v=>(v<0?'\u2212'+Math.abs(v):String(v));
const oneDec=v=>v.toFixed(1);

const panels=[
 {letter:'a)',lx:3,ly:17,title:'DRD2',tx:261,ty:36,yName:'Docking score',R:dockDRD2_REINVENT,A:dockDRD2_AHC,min:-14,max:-5.5,ticks:dockTicks,fmt:minusFmt,left:79,top:50,width:364,nameGap:57,band:5,shade:[]},
 {letter:'b)',lx:468,ly:17,title:'DRD2',tx:723,ty:36,yName:'Uniqueness',R:uniqDRD2_REINVENT,A:uniqDRD2_AHC,min:-0.05,max:1.05,ticks:uniqTicks,fmt:oneDec,left:541,top:50,width:365,nameGap:46,band:9,shade:[]},
 {letter:'c)',lx:934,ly:17,title:'DRD2 + DF1',tx:1195,ty:36,yName:'Docking score',R:dockDF1_REINVENT,A:dockDF1_AHC,min:-14,max:-5.5,ticks:dockTicks,fmt:minusFmt,left:1013,top:50,width:364,nameGap:57,band:5,shade:[]},
 {letter:'d)',lx:1399,ly:17,title:'DRD2 + DF1',tx:1658,ty:36,yName:'Uniqueness',R:uniqDF1_REINVENT,A:uniqDF1_AHC,min:-0.05,max:1.05,ticks:uniqTicks,fmt:oneDec,left:1476,top:50,width:364,nameGap:47,band:9,shade:[]},
 {letter:'e)',lx:3,ly:328,title:'DRD2 + DF1',tx:261,ty:350,yName:'Molecular Weight',R:mwDF1_REINVENT,A:mwDF1_AHC,min:200,max:600,ticks:mwTicks,fmt:v=>String(v),left:79,top:362,width:364,nameGap:54,band:6,shade:[[200,250],[350,600]]},
 {letter:'f)',lx:468,ly:328,title:'DRD2 + DF1',tx:723,ty:350,yName:'LogP',R:logpDF1_REINVENT,A:logpDF1_AHC,min:1,max:8,ticks:logpTicks,fmt:v=>String(v),left:541,top:362,width:365,nameGap:28,band:6,shade:[[3.5,8]]},
 {letter:'g)',lx:932,ly:328,title:'DRD2 + DF1',tx:1195,ty:350,yName:'# Rotatable Bonds',R:rotDF1_REINVENT,A:rotDF1_AHC,min:1.85,max:20,ticks:rotTicks,fmt:v=>String(v),left:1013,top:362,width:364,nameGap:41,band:6,shade:[[7,20]]}
];

const grids=[],xAxes=[],yAxes=[],series=[],graphics=[];
const txt=(text,x,y,size,align)=>({type:'text',x:x,y:y,silent:true,style:{text:text,fontSize:size,fontFamily:FONT,fill:'#000',align:align,verticalAlign:'middle',textAlign:align,textVerticalAlign:'middle'}});
panels.forEach((p,i)=>{
  grids.push({left:p.left,top:p.top,width:p.width,height:225,show:true,borderColor:'#000',borderWidth:2,backgroundColor:'rgba(0,0,0,0)',z:10});
  xAxes.push({type:'value',gridIndex:i,min:0,max:100,interval:20,name:'Step',nameLocation:'middle',nameGap:34,
    nameTextStyle:{fontSize:19,color:'#000',fontFamily:FONT},
    axisLine:{show:false,onZero:false},axisTick:{show:true,inside:false,length:6,lineStyle:{color:'#000',width:1.5}},
    axisLabel:{fontSize:17,color:'#000',fontFamily:FONT,margin:11},splitLine:{show:false}});
  yAxes.push({type:'value',gridIndex:i,min:p.min,max:p.max,name:p.yName,nameLocation:'middle',nameGap:p.nameGap,
    nameTextStyle:{fontSize:19,color:'#000',fontFamily:FONT},
    axisLine:{show:false,onZero:false},axisTick:{show:true,inside:false,length:6,customValues:p.ticks,lineStyle:{color:'#000',width:1.5}},
    axisLabel:{customValues:p.ticks,formatter:p.fmt,fontSize:17,color:'#000',fontFamily:FONT,margin:14},splitLine:{show:false}});
  graphics.push(txt(p.letter,p.lx,p.ly,26,'left'));
  graphics.push(txt(p.title,p.tx,p.ty,19,'center'));
  let first=true;
  [['R',p.R,blues],['A',p.A,oranges]].forEach(([m,arr,cols])=>{
    arr.forEach((vals,k)=>{
      const data=steps.map((s,j)=>[s,vals[j]]);
      const band={type:'line',name:m+sigmas[k]+'b',xAxisIndex:i,yAxisIndex:i,data:data,symbol:'none',showSymbol:false,silent:true,animation:false,
        emphasis:{disabled:true},lineStyle:{color:cols[k],width:p.band,opacity:0.2,join:'round',cap:'round'},itemStyle:{color:cols[k]},z:2};
      if(first){
        first=false;
        const ml=p.ticks.map(v=>({yAxis:v})).concat(xTicks.map(v=>({xAxis:v})));
        band.markLine={silent:true,symbol:['none','none'],label:{show:false},animation:false,z:1.5,
          lineStyle:{color:'#b0b0b0',width:1.3,type:'solid',opacity:1},emphasis:{disabled:true},data:ml};
        if(p.shade.length){
          band.markArea={silent:true,animation:false,z:1,itemStyle:{color:'#cccccc',opacity:1},label:{show:false},emphasis:{disabled:true},
            data:p.shade.map(s=>[{xAxis:0,yAxis:s[0]},{xAxis:100,yAxis:s[1]}])};
        }
      }
      series.push(band);
      series.push({type:'line',name:m+sigmas[k],xAxisIndex:i,yAxisIndex:i,data:data,symbol:'none',showSymbol:false,animation:false,
        emphasis:{disabled:true},lineStyle:{color:cols[k],width:2,join:'round'},itemStyle:{color:cols[k]},z:2});
    });
  });
});

graphics.push(txt('REINVENT',1456,387,19,'left'));
graphics.push(txt('(per \u03c3)',1456,408,19,'left'));
graphics.push(txt('Augmented Hill-Climb',1613,387,19,'left'));
graphics.push(txt('(per \u03c3)',1613,408,19,'left'));

const legendBase={orient:'vertical',top:427,itemWidth:38,itemHeight:4,itemGap:9,icon:'rect',padding:0,selectedMode:false,
  formatter:n=>n.slice(1),textStyle:{fontSize:17,color:'#000',fontFamily:FONT,padding:[0,0,0,9]}};
const legends=[
  Object.assign({},legendBase,{left:1461,data:sigmas.map((s,k)=>({name:'R'+s,itemStyle:{color:blues[k]}}))}),
  Object.assign({},legendBase,{left:1675,data:sigmas.map((s,k)=>({name:'A'+s,itemStyle:{color:oranges[k]}}))})
];

const chart=echarts.init(document.getElementById('c'),null,{renderer:'canvas'});
chart.setOption({animation:false,backgroundColor:'#fff',grid:grids,xAxis:xAxes,yAxis:yAxes,series:series,legend:legends,graphic:graphics});
</script></body></html>
